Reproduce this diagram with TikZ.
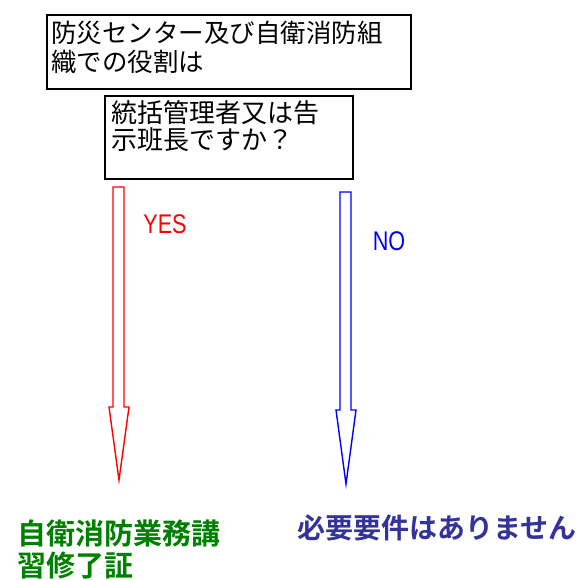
\documentclass[tikz,border=0pt]{standalone}
\usepackage{fontspec}
\setmainfont{Noto Sans CJK JP}
\newfontfamily\latinf{Liberation Sans}
\newfontfamily\jpbold{Noto Sans CJK JP Bold}
\definecolor{resgreen}{RGB}{0,128,0}
\definecolor{resblue}{RGB}{51,51,153}
\definecolor{arrred}{RGB}{255,0,0}
\definecolor{arrblue}{RGB}{0,0,255}
\begin{document}
\begin{tikzpicture}[x=1bp,y=-1bp,
  qbox/.style={draw=black,line width=1.3bp},
  qline/.style={anchor=base west,inner sep=0pt},
  t1font/.style={font={\fontsize{25.5bp}{29bp}\selectfont}},
  t2font/.style={font={\fontsize{26bp}{27bp}\selectfont}},
  greenfont/.style={text=resgreen,font={\jpbold\fontsize{29bp}{31bp}\selectfont}},
  bluefont/.style={text=resblue,font={\jpbold\fontsize{28bp}{30bp}\selectfont}},
  arrowshape/.style={line width=1.4bp,line join=miter},
  lbl/.style={inner sep=0pt}]
\useasboundingbox (0,0) rectangle (585,580);
% question boxes
\draw[qbox] (47,15) rectangle (411,89);
\node[qline,t1font] (t1a) at (51,42.5) {防災センター及び自衛消防組};
\node[qline,t1font] (t1b) at (51,72) {織での役割は};
\draw[qbox] (105,96) rectangle (353,179);
\node[qline,t2font] (t2a) at (111,123) {統括管理者又は告};
\node[qline,t2font] (t2b) at (111,150) {示班長ですか？};
% red arrow (YES)
\draw[arrowshape,draw=arrred] (113,187) -- (124,187) -- (124,407) -- (129,407) -- (119,480) -- (109,407) -- (113,407) -- cycle;
\coordinate (redtip) at (119,480);
\node[lbl,text=arrred,font={\latinf\fontsize{27bp}{27bp}\selectfont}] (yes) at (165,224) {\scalebox{0.8}[1]{YES}};
% blue arrow (NO)
\draw[arrowshape,draw=arrblue] (340,192) -- (351,192) -- (351,410) -- (356,410) -- (346,484) -- (336,410) -- (340,410) -- cycle;
\coordinate (bluetip) at (346,484);
\node[lbl,text=arrblue,font={\latinf\fontsize{27bp}{27bp}\selectfont}] (no) at (389,241) {\scalebox{0.8}[1]{NO}};
% results
\node[qline,greenfont] (res1a) at (17,544.5) {自衛消防業務講};
\node[qline,greenfont] (res1b) at (17,576) {習修了証};
\node[qline,bluefont] (res2) at (297,538) {必要要件はありません};
\end{tikzpicture}
\end{document}
